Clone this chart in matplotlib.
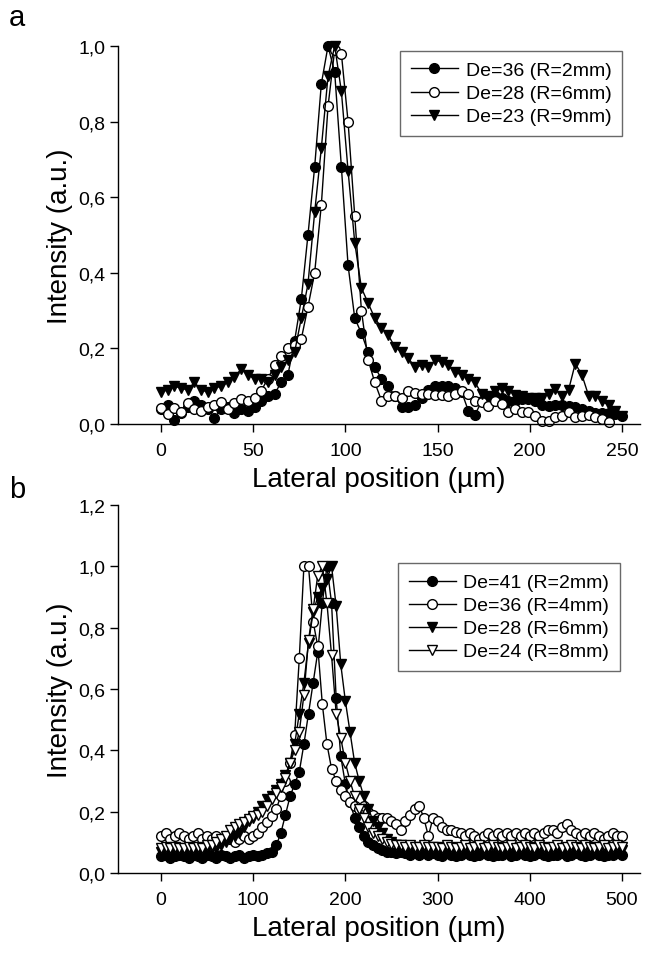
import numpy as np
import matplotlib
matplotlib.use("Agg")
import matplotlib.pyplot as plt
from matplotlib.ticker import FuncFormatter

plt.rcParams['font.family'] = ['Liberation Sans', 'DejaVu Sans']

# ---------------- Panel a data ----------------
x_a = np.linspace(0, 250, 70)
a_de36 = [0.04, 0.05, 0.01, 0.03, 0.045, 0.06, 0.05, 0.04, 0.015, 0.04,
          0.045, 0.03, 0.04, 0.035, 0.045, 0.06, 0.075, 0.08, 0.11, 0.13,
          0.22, 0.33, 0.50, 0.68, 0.90, 1.0, 0.93, 0.68, 0.42, 0.28,
          0.24, 0.19, 0.15, 0.12, 0.10, 0.075, 0.045, 0.045, 0.05, 0.07,
          0.09, 0.10, 0.10, 0.10, 0.095, 0.085, 0.035, 0.025, 0.06, 0.07,
          0.075, 0.07, 0.06, 0.06, 0.065, 0.066, 0.06, 0.05, 0.048, 0.05,
          0.05, 0.048, 0.045, 0.04, 0.035, 0.03, 0.03, 0.03, 0.026, 0.02]
a_de28 = [0.042, 0.026, 0.042, 0.032, 0.055, 0.04, 0.035, 0.045, 0.05, 0.058,
          0.04, 0.055, 0.066, 0.06, 0.07, 0.088, 0.12, 0.155, 0.18, 0.20,
          0.21, 0.225, 0.31, 0.40, 0.58, 0.84, 0.99, 0.98, 0.80, 0.55,
          0.30, 0.17, 0.11, 0.062, 0.075, 0.075, 0.07, 0.088, 0.082, 0.08,
          0.08, 0.078, 0.078, 0.075, 0.08, 0.087, 0.08, 0.062, 0.057, 0.048,
          0.062, 0.053, 0.031, 0.04, 0.033, 0.031, 0.022, 0.009, 0.009, 0.018,
          0.022, 0.033, 0.018, 0.022, 0.025, 0.018, 0.013, 0.004]
a_de23 = [0.085, 0.09, 0.10, 0.095, 0.09, 0.11, 0.09, 0.085, 0.095, 0.10,
          0.11, 0.125, 0.145, 0.13, 0.12, 0.12, 0.11, 0.13, 0.15, 0.17,
          0.19, 0.28, 0.37, 0.56, 0.73, 0.92, 1.0, 0.88, 0.67, 0.48,
          0.36, 0.32, 0.28, 0.255, 0.235, 0.205, 0.19, 0.175, 0.15, 0.155,
          0.15, 0.168, 0.165, 0.155, 0.137, 0.13, 0.12, 0.11, 0.08, 0.075,
          0.088, 0.095, 0.088, 0.078, 0.074, 0.07, 0.07, 0.07, 0.08, 0.092,
          0.075, 0.09, 0.16, 0.13, 0.075, 0.075, 0.06, 0.05, 0.035, 0.02]
labels_a = ['De=36 (R=2mm)', 'De=28 (R=6mm)', 'De=23 (R=9mm)']

# ---------------- Panel b data ----------------
x_b = np.arange(0, 501, 5)
b_de41 = [0.055, 0.06, 0.05, 0.055, 0.06, 0.055, 0.05, 0.06, 0.055, 0.05,
          0.06, 0.055, 0.05, 0.06, 0.055, 0.05, 0.055, 0.06, 0.05, 0.055,
          0.06, 0.055, 0.06, 0.065, 0.07, 0.09, 0.13, 0.19, 0.25, 0.29,
          0.33, 0.42, 0.52, 0.62, 0.72, 0.88, 1.0, 0.88, 0.57, 0.38,
          0.29, 0.23, 0.18, 0.15, 0.12, 0.10, 0.09, 0.08, 0.075, 0.07,
          0.07, 0.065, 0.07, 0.065, 0.06, 0.065, 0.06, 0.07, 0.06, 0.065,
          0.06, 0.055, 0.065, 0.06, 0.055, 0.06, 0.065, 0.06, 0.055, 0.06,
          0.065, 0.06, 0.055, 0.06, 0.06, 0.065, 0.055, 0.06, 0.065, 0.06,
          0.055, 0.06, 0.065, 0.06, 0.055, 0.06, 0.06, 0.065, 0.055, 0.06,
          0.065, 0.06, 0.055, 0.06, 0.065, 0.06, 0.055, 0.06, 0.06, 0.065,
          0.06]
b_de36 = [0.12, 0.13, 0.11, 0.12, 0.13, 0.12, 0.11, 0.12, 0.13, 0.11,
          0.12, 0.11, 0.12, 0.11, 0.12, 0.11, 0.10, 0.11, 0.12, 0.11,
          0.12, 0.13, 0.15, 0.165, 0.185, 0.21, 0.25, 0.30, 0.36, 0.45,
          0.70, 1.0, 1.0, 0.82, 0.74, 0.55, 0.42, 0.34, 0.30, 0.27,
          0.25, 0.23, 0.22, 0.21, 0.22, 0.20, 0.19, 0.18, 0.18, 0.18,
          0.17, 0.16, 0.14, 0.17, 0.19, 0.21, 0.22, 0.18, 0.12, 0.18,
          0.17, 0.15, 0.14, 0.14, 0.135, 0.13, 0.12, 0.13, 0.12, 0.11,
          0.12, 0.13, 0.12, 0.13, 0.12, 0.13, 0.12, 0.13, 0.12, 0.13,
          0.12, 0.13, 0.12, 0.13, 0.14, 0.14, 0.13, 0.15, 0.16, 0.14,
          0.13, 0.12, 0.13, 0.12, 0.13, 0.12, 0.11, 0.12, 0.13, 0.12,
          0.12]
b_de28 = [0.07, 0.075, 0.07, 0.075, 0.07, 0.075, 0.07, 0.075, 0.07, 0.075,
          0.075, 0.08, 0.08, 0.09, 0.10, 0.11, 0.12, 0.13, 0.15, 0.17,
          0.18, 0.20, 0.22, 0.24, 0.25, 0.27, 0.29, 0.32, 0.36, 0.42,
          0.52, 0.62, 0.75, 0.85, 0.90, 0.93, 0.96, 1.0, 0.87, 0.68,
          0.56, 0.46, 0.36, 0.30, 0.25, 0.21, 0.17, 0.15, 0.13, 0.11,
          0.10, 0.09, 0.09, 0.085, 0.08, 0.08, 0.075, 0.08, 0.075, 0.08,
          0.075, 0.07, 0.08, 0.075, 0.07, 0.075, 0.08, 0.07, 0.075, 0.08,
          0.07, 0.075, 0.08, 0.075, 0.07, 0.075, 0.08, 0.07, 0.075, 0.08,
          0.075, 0.07, 0.08, 0.075, 0.07, 0.075, 0.08, 0.07, 0.075, 0.08,
          0.075, 0.07, 0.08, 0.075, 0.07, 0.075, 0.08, 0.07, 0.075, 0.08,
          0.075]
b_de24 = [0.08, 0.085, 0.08, 0.085, 0.08, 0.08, 0.085, 0.08, 0.085, 0.08,
          0.09, 0.09, 0.10, 0.11, 0.12, 0.14, 0.15, 0.16, 0.165, 0.175,
          0.185, 0.19, 0.20, 0.22, 0.24, 0.26, 0.28, 0.31, 0.36, 0.40,
          0.46, 0.58, 0.76, 0.86, 0.97, 1.0, 0.88, 0.71, 0.52, 0.44,
          0.36, 0.30, 0.25, 0.21, 0.18, 0.15, 0.13, 0.12, 0.11, 0.10,
          0.095, 0.09, 0.09, 0.085, 0.09, 0.085, 0.085, 0.09, 0.085, 0.085,
          0.085, 0.08, 0.09, 0.085, 0.08, 0.085, 0.09, 0.08, 0.085, 0.09,
          0.08, 0.085, 0.09, 0.085, 0.08, 0.085, 0.09, 0.08, 0.085, 0.09,
          0.085, 0.08, 0.09, 0.085, 0.08, 0.085, 0.09, 0.08, 0.085, 0.09,
          0.085, 0.08, 0.09, 0.085, 0.08, 0.085, 0.09, 0.08, 0.085, 0.09,
          0.085]
labels_b = ['De=41 (R=2mm)', 'De=36 (R=4mm)', 'De=28 (R=6mm)', 'De=24 (R=8mm)']

W, H = 645, 954
fig = plt.figure(figsize=(W / 100, H / 100), dpi=100)

def px_axes(l, r, t, b):
    return fig.add_axes([l / W, 1 - b / H, (r - l) / W, (b - t) / H])

ax_a = px_axes(118, 640, 47, 425)
ax_b = px_axes(118, 640, 506, 874)

comma = FuncFormatter(lambda v, p: ('%.1f' % v).replace('.', ','))

mk = dict(markersize=7, markeredgewidth=1.0, linewidth=1.0, color='black')

ax_a.plot(x_a, a_de36, marker='o', mfc='black', mec='black', label=labels_a[0], **mk)
ax_a.plot(x_a[:len(a_de28)], a_de28, marker='o', mfc='white', mec='black', label=labels_a[1], **mk)
ax_a.plot(x_a, a_de23, marker='v', mfc='black', mec='black', label=labels_a[2], **mk)

ax_b.plot(x_b, b_de41, marker='o', mfc='black', mec='black', label=labels_b[0], **mk)
ax_b.plot(x_b, b_de36, marker='o', mfc='white', mec='black', label=labels_b[1], **mk)
ax_b.plot(x_b, b_de28, marker='v', mfc='black', mec='black', label=labels_b[2], **mk)
ax_b.plot(x_b, b_de24, marker='v', mfc='white', mec='black', label=labels_b[3], **mk)

for ax, xmax, xticks, ytop in [(ax_a, 250, [0, 50, 100, 150, 200, 250], 1.0),
                                (ax_b, 500, [0, 100, 200, 300, 400, 500], 1.2)]:
    ax.set_xlim(-xmax * 0.0932, xmax * 1.039)
    ax.set_ylim(0, ytop)
    ax.set_xticks(xticks)
    ax.set_yticks(np.round(np.arange(0, ytop + 0.01, 0.2), 1))
    ax.yaxis.set_major_formatter(comma)
    ax.spines['top'].set_visible(False)
    ax.spines['right'].set_visible(False)
    ax.spines['left'].set_linewidth(1.0)
    ax.spines['bottom'].set_linewidth(1.0)
    ax.tick_params(direction='out', length=6, width=1.0, labelsize=14)
    ax.tick_params(axis='x', pad=7)
    ax.tick_params(axis='y', pad=3)
    ax.set_xlabel('Lateral position (µm)', fontsize=20, labelpad=5)
    ax.set_ylabel('Intensity (a.u.)', fontsize=20, labelpad=4)
    for line in ax.get_lines():
        line.set_clip_on(False)

leg_kw = dict(fontsize=14, frameon=True, fancybox=False, edgecolor='#444444',
              handlelength=2.4, handletextpad=0.4, borderpad=0.55, labelspacing=0.28,
              borderaxespad=0.0)
la = ax_a.legend(loc='upper right', bbox_to_anchor=((622 - 118) / 522, 1 - (52 - 47) / 378), **leg_kw)
lb = ax_b.legend(loc='upper right', bbox_to_anchor=((620 - 118) / 522, 1 - (564 - 506) / 368), **leg_kw)
for lg in (la, lb):
    lg.get_frame().set_linewidth(1.0)

fig.text(17 / W, 1 - 18 / H, 'a', fontsize=21, ha='center', va='center')
fig.text(17 / W, 1 - 490 / H, 'b', fontsize=21, ha='center', va='center')

fig.savefig('out.png', dpi=100)
